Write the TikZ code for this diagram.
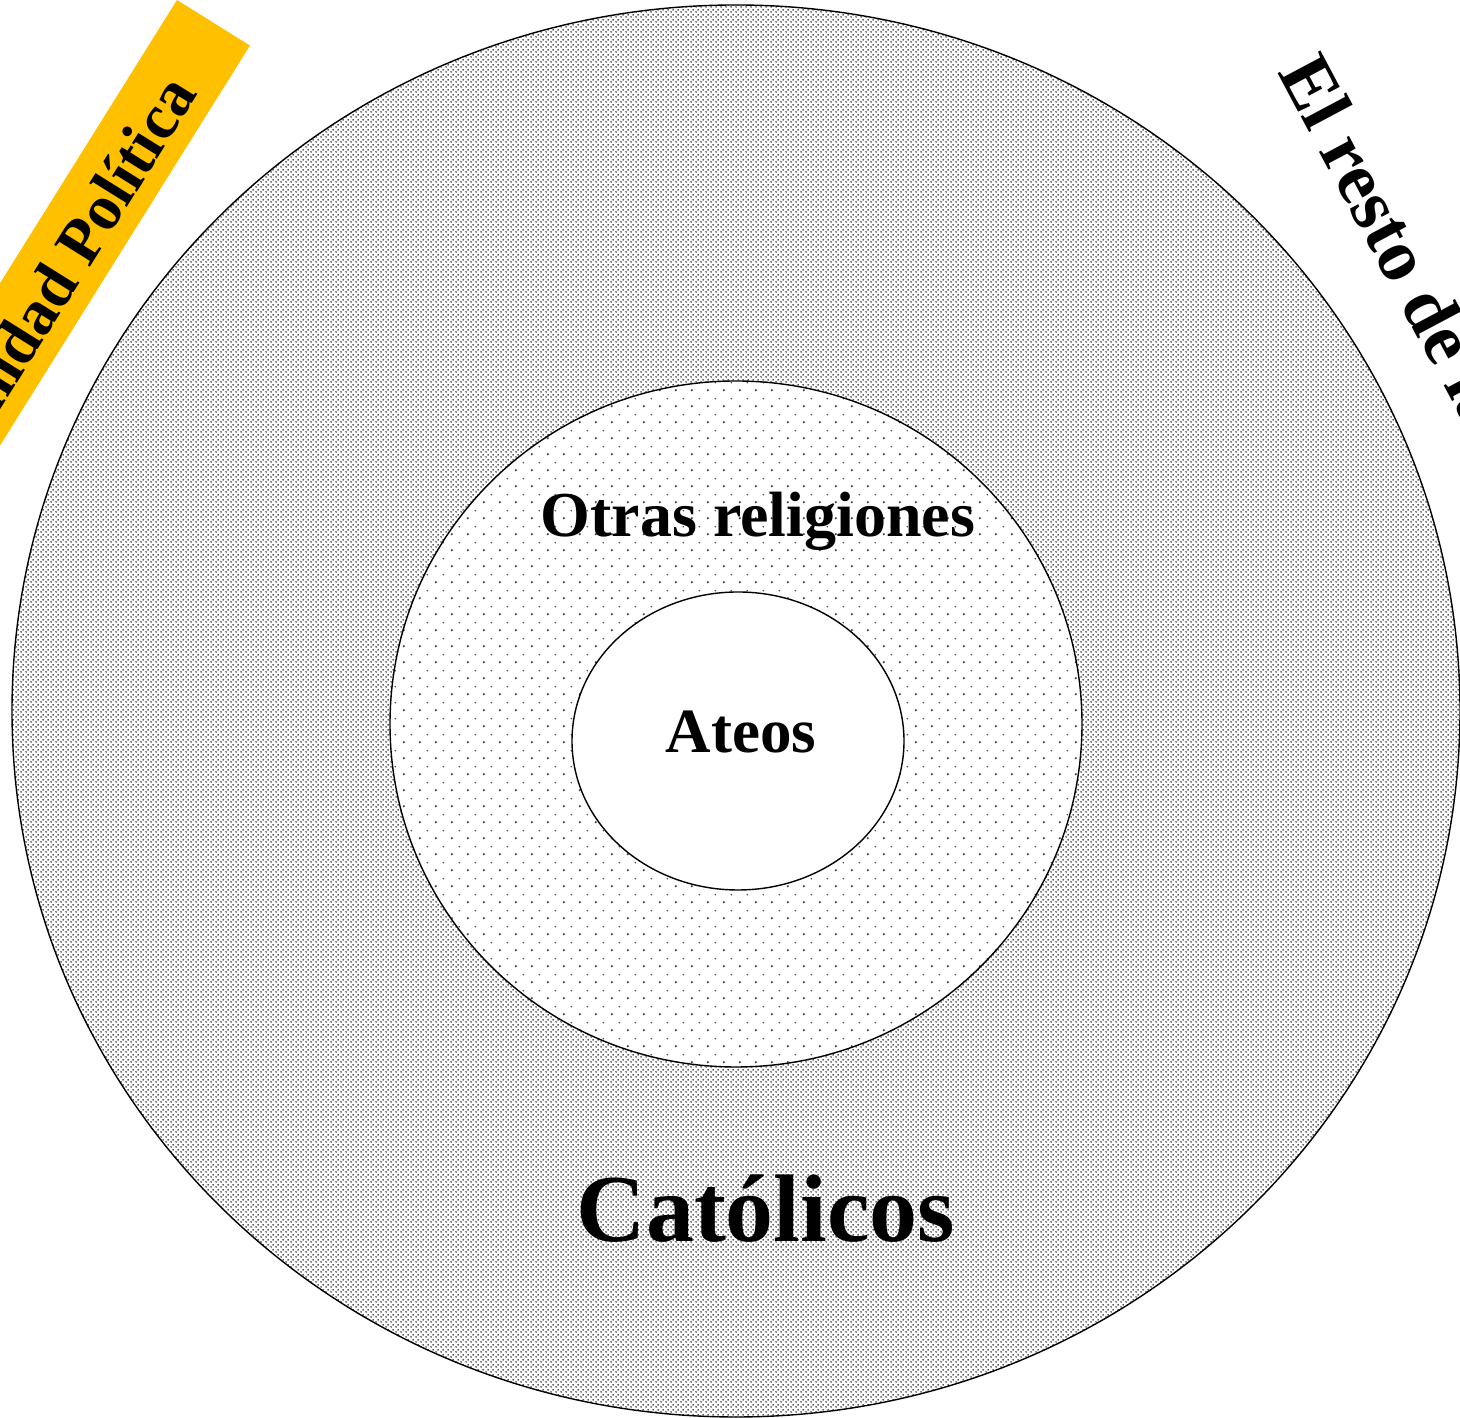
\documentclass[tikz,border=0pt]{standalone}
\usepackage{fontspec}
\setmainfont{Liberation Serif}
\usetikzlibrary{patterns}
\definecolor{bandgold}{HTML}{FFC000}
\pgfdeclarepatternformonly{densedots}{\pgfpointorigin}{\pgfqpoint{5pt}{5pt}}{\pgfqpoint{5pt}{5pt}}{%
  \pgfpathcircle{\pgfqpoint{1.25pt}{1.25pt}}{1.0pt}%
  \pgfpathcircle{\pgfqpoint{3.75pt}{3.75pt}}{1.0pt}%
  \pgfusepath{fill}}
\pgfdeclarepatternformonly{sparsedots}{\pgfpointorigin}{\pgfqpoint{16pt}{16pt}}{\pgfqpoint{16pt}{16pt}}{%
  \pgfpathcircle{\pgfqpoint{4pt}{4pt}}{1.3pt}%
  \pgfpathcircle{\pgfqpoint{12pt}{12pt}}{0.9pt}%
  \pgfusepath{fill}}
\tikzset{
  ring/.style={draw=black, line width=1.4pt},
  lbl/.style={inner sep=0pt, font=\bfseries},
}
\begin{document}
\begin{tikzpicture}[x=1pt,y=1pt]
\useasboundingbox (0,0) rectangle (1460,1418);
\clip (0,0) rectangle (1460,1418);
% outer region
\fill[white] (736,707) ellipse [x radius=724, y radius=706];
\fill[pattern=densedots, pattern color=black!90] (736,707) ellipse [x radius=724, y radius=706];
\draw[ring] (736,707) ellipse [x radius=724, y radius=706];
% middle region
\fill[white] (736,694) ellipse [x radius=346, y radius=343];
\fill[pattern=sparsedots, pattern color=black!75] (736,694) ellipse [x radius=346, y radius=343];
\draw[ring] (736,694) ellipse [x radius=346, y radius=343];
% inner region
\draw[ring, fill=white] (738,677) ellipse [x radius=166, y radius=149];
% labels
\node[lbl, anchor=base, font=\bfseries\fontsize{64}{70}\selectfont] (otras) at (758,881) {Otras religiones};
\node[lbl, anchor=base, font=\bfseries\fontsize{63}{70}\selectfont] (ateos) at (741,665) {Ateos};
\node[lbl, anchor=base, font=\bfseries\fontsize{96}{100}\selectfont] (cat) at (766,176) {Católicos};
% yellow band
\begin{scope}[shift={(177,1418)}, rotate=-32]
  \fill[bandgold] (0,-1200) rectangle (86,0);
\end{scope}
\node[lbl, anchor=east, rotate=58, font=\bfseries\fontsize{64}{70}\selectfont] (com) at (180,1336) {Comunidad Política};
% right text
\node[lbl, anchor=base west, rotate=-62, font=\bfseries\fontsize{74}{80}\selectfont] (resto) at (1277,1346) {El resto de la sociedad};
\end{tikzpicture}
\end{document}
